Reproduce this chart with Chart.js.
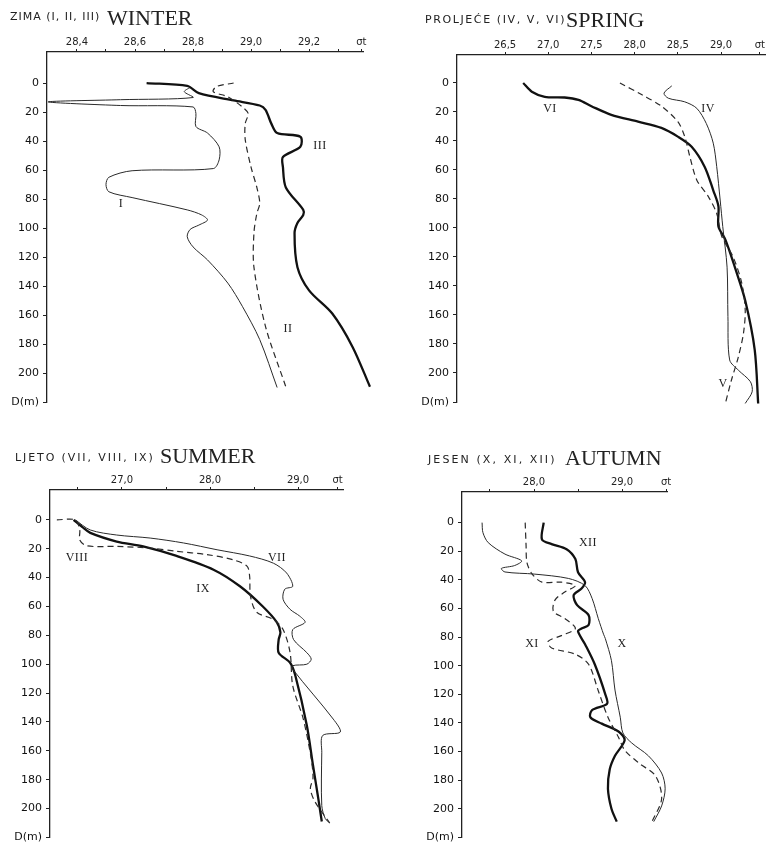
<!DOCTYPE html>
<html>
<head>
<meta charset="utf-8">
<script src="https://cdn.jsdelivr.net/npm/chart.js@4.4.1/dist/chart.umd.min.js"></script>
<style>
  body { margin: 0; background: #fff; }
  #page { position: relative; width: 769px; height: 848px; overflow: hidden; background: #fff; }
  canvas { position: absolute; }
  .sm { position: absolute; white-space: nowrap; color: #222; font-family: "DejaVu Sans", sans-serif;
        font-size: 11px; line-height: 11px; letter-spacing: 0.6px; }
  .big { position: absolute; white-space: nowrap; color: #222; font-family: "Liberation Serif", serif;
         font-size: 22px; line-height: 22px; }
  .lbl { position: absolute; font-family: "Liberation Serif", serif; font-size: 12px; color: #222;
         transform: translate(-50%, -50%); letter-spacing: 0.5px; }
</style>
</head>
<body>
<div id="page">
  <canvas id="winter" width="385" height="424" style="left:0;top:0"></canvas>
  <canvas id="spring" width="384" height="424" style="left:385px;top:0"></canvas>
  <canvas id="summer" width="385" height="424" style="left:0;top:424px"></canvas>
  <canvas id="autumn" width="384" height="424" style="left:385px;top:424px"></canvas>

  <div class="sm" style="left:10px;top:11px;letter-spacing:1px">ZIMA (I, II, III)</div>
  <div class="big" style="left:107px;top:7px">WINTER</div>
  <div class="sm" style="left:425px;top:14px;letter-spacing:1.6px">PROLJEĆE (IV, V, VI)</div>
  <div class="big" style="left:566px;top:9px">SPRING</div>
  <div class="sm" style="left:15px;top:452px;letter-spacing:1.9px">LJETO (VII, VIII, IX)</div>
  <div class="big" style="left:160px;top:445px">SUMMER</div>
  <div class="sm" style="left:428px;top:454px;letter-spacing:2.1px">JESEN (X, XI, XII)</div>
  <div class="big" style="left:565px;top:447px">AUTUMN</div>

  <div class="lbl" style="left:320px;top:145px">III</div>
  <div class="lbl" style="left:121px;top:203px">I</div>
  <div class="lbl" style="left:288px;top:328px">II</div>
  <div class="lbl" style="left:550px;top:108px">VI</div>
  <div class="lbl" style="left:708px;top:108px">IV</div>
  <div class="lbl" style="left:723px;top:383px">V</div>
  <div class="lbl" style="left:77px;top:557px">VIII</div>
  <div class="lbl" style="left:277px;top:557px">VII</div>
  <div class="lbl" style="left:203px;top:588px">IX</div>
  <div class="lbl" style="left:588px;top:542px">XII</div>
  <div class="lbl" style="left:532px;top:643px">XI</div>
  <div class="lbl" style="left:622px;top:643px">X</div>
</div>
<script>
// depth axis (m), shared by all four panels
const depthTicks = [0, 20, 40, 60, 80, 100, 120, 140, 160, 180, 200, 220];
const depthLabels = ['0', '20', '40', '60', '80', '100', '120', '140', '160', '180', '200', 'D(m)'];

// top axis ticks per season
const winterTicks = [28.4, 28.5, 28.6, 28.7, 28.8, 28.9, 29.0, 29.1, 29.2, 29.3, 29.38];
const winterTickLabels = ['28,4', '', '28,6', '', '28,8', '', '29,0', '', '29,2', '', 'σt'];
const springTicks = [26.5, 27.0, 27.5, 28.0, 28.5, 29.0, 29.45];
const springTickLabels = ['26,5', '27,0', '27,5', '28,0', '28,5', '29,0', 'σt'];
const summerTicks = [26.5, 27.0, 27.5, 28.0, 28.5, 29.0, 29.45];
const summerTickLabels = ['', '27,0', '', '28,0', '', '29,0', 'σt'];
const autumnTicks = [27.5, 28.0, 28.5, 29.0, 29.5];
const autumnTickLabels = ['', '28,0', '', '29,0', 'σt'];

// WINTER: I (thin), II (dashed), III (thick)
const winterI_d = [3, 6, 10, 11.5, 13, 15.5, 16.5, 21, 30, 34.5, 44, 53, 59, 60.5, 65, 70, 75, 79, 87.5, 91, 94.5, 98, 101, 106, 113, 122, 138, 154, 177, 210];
const winterI_t = [28.79, 28.77, 28.80, 28.55, 28.30, 28.55, 28.80, 28.81, 28.81, 28.85, 28.89, 28.89, 28.87, 28.59, 28.51, 28.50, 28.51, 28.59, 28.78, 28.83, 28.85, 28.82, 28.79, 28.78, 28.80, 28.85, 28.92, 28.97, 29.03, 29.09];
const winterII_d = [0, 2.5, 6, 9.5, 16.5, 21, 28, 39, 58, 72, 83, 90, 103.5, 127, 168, 209.5];
const winterII_t = [28.94, 28.88, 28.87, 28.92, 28.97, 28.99, 28.98, 28.98, 29.00, 29.02, 29.03, 29.02, 29.01, 29.01, 29.05, 29.12];
const winterIII_d = [0, 2, 7, 12, 15.5, 18.5, 28, 34.5, 37, 44, 51, 58, 72, 87.5, 91, 96.5, 103.5, 127, 143, 159, 182, 209.5];
const winterIII_t = [28.64, 28.78, 28.82, 28.94, 29.03, 29.05, 29.07, 29.09, 29.17, 29.17, 29.11, 29.11, 29.12, 29.18, 29.18, 29.16, 29.15, 29.16, 29.20, 29.28, 29.35, 29.41];

// SPRING: IV (thin), V (dashed), VI (thick)
const springIV_d = [2, 7, 10.5, 13, 17.5, 28, 41.5, 57.7, 80.7, 99, 127, 161, 191, 198, 206, 213, 221];
const springIV_t = [28.43, 28.34, 28.39, 28.58, 28.72, 28.83, 28.91, 28.95, 28.99, 29.02, 29.07, 29.08, 29.10, 29.20, 29.34, 29.36, 29.28];
const springV_d = [0, 8, 16, 26.7, 37, 51, 67, 78, 90, 106, 120, 138, 156.5, 172.5, 189, 205, 221];
const springV_t = [27.83, 28.08, 28.31, 28.50, 28.58, 28.64, 28.72, 28.85, 28.95, 29.01, 29.14, 29.24, 29.28, 29.26, 29.20, 29.12, 29.05];
const springVI_d = [0, 6, 9.5, 10, 11.7, 16, 22, 26.7, 31, 37, 44, 57.7, 74, 85, 99, 108, 127, 150, 184, 221];
const springVI_t = [26.71, 26.81, 26.96, 27.19, 27.35, 27.50, 27.73, 28.04, 28.31, 28.50, 28.66, 28.81, 28.91, 28.97, 28.97, 29.05, 29.16, 29.28, 29.39, 29.43];

// SUMMER: VII (thin), VIII (dashed), IX (thick)
const summerVII_d = [0, 7, 10.5, 12.6, 16, 20.7, 25, 30, 36.8, 46, 48, 55, 62, 66.7, 71, 76, 83, 92, 96.5, 100, 101, 103.5, 138, 147, 149.4, 161, 198, 207, 210];
const summerVII_t = [26.47, 26.64, 26.94, 27.32, 27.70, 28.08, 28.45, 28.72, 28.87, 28.94, 28.85, 28.83, 28.91, 29.02, 29.08, 28.94, 28.95, 29.10, 29.15, 29.10, 28.94, 28.94, 29.40, 29.48, 29.28, 29.27, 29.27, 29.31, 29.36];
const summerVIII_d = [0, 0, 7, 14, 18, 18.4, 19.5, 21.8, 24, 27.6, 32, 39, 53, 64, 69, 76, 92, 115, 138, 165.5, 179, 186, 195, 210];
const summerVIII_t = [26.26, 26.47, 26.52, 26.52, 26.60, 26.94, 27.32, 27.62, 27.96, 28.26, 28.42, 28.45, 28.46, 28.53, 28.72, 28.83, 28.91, 28.94, 29.06, 29.15, 29.17, 29.14, 29.19, 29.36];
const summerIX_d = [0, 5, 9, 15, 18.4, 25, 34.5, 46, 60, 71, 78, 83, 92, 99, 108, 142.5, 170, 193, 209];
const summerIX_t = [26.45, 26.55, 26.64, 26.94, 27.24, 27.62, 28.04, 28.34, 28.60, 28.76, 28.80, 28.78, 28.78, 28.91, 28.97, 29.10, 29.17, 29.23, 29.27];

// AUTUMN: X (thin), XI (dashed), XII (thick)
const autumnX_d = [0, 7, 14, 22, 26.7, 30, 32, 34.5, 36, 39, 44, 53, 67, 78, 81, 96.5, 117, 136, 147, 154, 163, 175, 186, 198, 209];
const autumnX_t = [27.41, 27.42, 27.48, 27.67, 27.86, 27.78, 27.63, 27.67, 28.01, 28.39, 28.58, 28.66, 28.73, 28.79, 28.81, 28.88, 28.92, 28.98, 29.01, 29.11, 29.30, 29.45, 29.49, 29.45, 29.36];
const autumnXI_d = [0, 16, 28, 36, 41.6, 41.6, 44, 48.5, 54, 62, 67, 74, 79, 83, 87.6, 92, 99, 117.5, 136, 150, 159, 168, 177, 193, 209];
const autumnXI_t = [27.90, 27.91, 27.92, 27.98, 28.09, 28.31, 28.47, 28.35, 28.24, 28.22, 28.35, 28.47, 28.31, 28.16, 28.20, 28.47, 28.62, 28.73, 28.84, 28.96, 29.03, 29.19, 29.38, 29.45, 29.34];
const autumnXII_d = [0, 11.7, 15, 18.6, 25.5, 34.7, 41.6, 46, 50.8, 57.7, 64.6, 71.5, 74, 76, 85, 99, 120, 126.6, 131, 136, 140.5, 146, 152, 163, 172.6, 186, 200, 209];
const autumnXII_t = [28.11, 28.09, 28.20, 28.37, 28.47, 28.50, 28.58, 28.54, 28.45, 28.49, 28.62, 28.62, 28.54, 28.50, 28.58, 28.69, 28.81, 28.83, 28.66, 28.64, 28.77, 28.96, 29.03, 28.92, 28.86, 28.84, 28.88, 28.94];

const ink = '#222';
const lineStyles = {
    thin:   { borderColor: '#2a2a2a', borderWidth: 1, borderDash: [] },
    dashed: { borderColor: '#2a2a2a', borderWidth: 1.2, borderDash: [6, 4] },
    thick:  { borderColor: '#111', borderWidth: 2.3, borderDash: [] }
};

function series(temps, depths, style) {
    return Object.assign({
        data: temps.map((t, i) => ({ x: t, y: depths[i] })),
        showLine: true,
        pointRadius: 0,
        tension: 0.3,
        fill: false,
        clip: false
    }, lineStyles[style]);
}

function make_panel(id, box, xRange, yMin, tickVals, tickLabels, datasets) {
    return new Chart(document.getElementById(id), {
        type: 'scatter',
        data: { datasets: datasets },
        options: {
            responsive: false,
            animation: false,
            layout: { padding: { left: 0, top: 0, right: box.right, bottom: box.bottom } },
            plugins: { legend: { display: false }, tooltip: { enabled: false } },
            scales: {
                x: {
                    type: 'linear',
                    position: 'top',
                    min: xRange[0],
                    max: xRange[1],
                    afterBuildTicks: axis => { axis.ticks = tickVals.map(v => ({ value: v })); },
                    afterFit: scale => { scale.height = box.top; },
                    ticks: { callback: (v, i) => tickLabels[i], maxRotation: 0, autoSkip: false, padding: 1,
                             color: ink, font: { family: 'DejaVu Sans', size: 10 } },
                    grid: { drawOnChartArea: false, tickLength: 3, color: ink },
                    border: { color: ink, width: 1.3 }
                },
                y: {
                    type: 'linear',
                    reverse: true,
                    min: yMin,
                    max: 220,
                    afterBuildTicks: axis => { axis.ticks = depthTicks.map(v => ({ value: v })); },
                    afterFit: scale => { scale.width = box.left; },
                    ticks: { callback: (v, i) => depthLabels[i], autoSkip: false, padding: 4,
                             color: '#111', font: { family: 'DejaVu Sans', size: 11 } },
                    grid: { drawOnChartArea: false, tickLength: 4, color: ink },
                    border: { color: ink, width: 1.3 }
                }
            }
        }
    });
}

make_panel('winter', { left: 47, top: 52, right: 22, bottom: 22 }, [28.2966, 29.386], -21.4,
    winterTicks, winterTickLabels, [
        series(winterI_t, winterI_d, 'thin'),
        series(winterII_t, winterII_d, 'dashed'),
        series(winterIII_t, winterIII_d, 'thick')
    ]);

make_panel('spring', { left: 72, top: 55, right: 4, bottom: 22 }, [25.944, 29.509], -19.3,
    springTicks, springTickLabels, [
        series(springIV_t, springIV_d, 'thin'),
        series(springV_t, springV_d, 'dashed'),
        series(springVI_t, springVI_d, 'thick')
    ]);

make_panel('summer', { left: 50, top: 66, right: 42, bottom: 9 }, [26.182, 29.511], -20.7,
    summerTicks, summerTickLabels, [
        series(summerVII_t, summerVII_d, 'thin'),
        series(summerVIII_t, summerVIII_d, 'dashed'),
        series(summerIX_t, summerIX_d, 'thick')
    ]);

make_panel('autumn', { left: 77, top: 68, right: 102, bottom: 6 }, [27.182, 29.511], -21.4,
    autumnTicks, autumnTickLabels, [
        series(autumnX_t, autumnX_d, 'thin'),
        series(autumnXI_t, autumnXI_d, 'dashed'),
        series(autumnXII_t, autumnXII_d, 'thick')
    ]);
</script>
</body>
</html>
